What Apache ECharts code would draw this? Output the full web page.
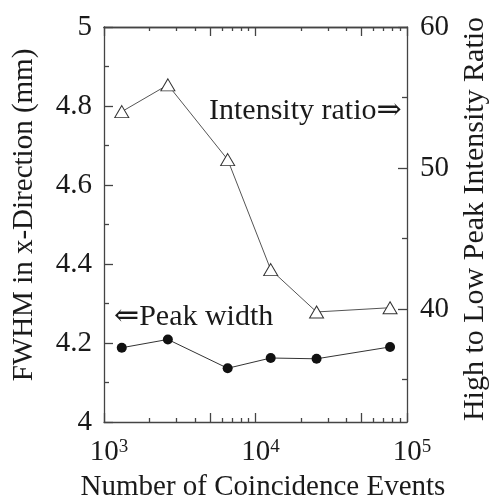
<!DOCTYPE html>
<html>
<head>
<meta charset="utf-8">
<script src="https://cdn.jsdelivr.net/npm/echarts@6/dist/echarts.min.js"></script>
<style>
  html, body { margin: 0; padding: 0; background: #fff; }
  #chart { width: 491px; height: 502px; }
</style>
</head>
<body>
<div id="chart"></div>
<script>
// number of coincidence events (x, log scale)
const events = [1310, 2640, 6550, 12600, 25300, 77300]
// FWHM in x-direction, mm (left axis)
const peakWidth = [4.188, 4.209, 4.136, 4.162, 4.160, 4.190]
// high to low peak intensity ratio (right axis)
const intensityRatio = [54.0, 55.9, 50.6, 42.8, 39.8, 40.1]

const ratioLabels = [40, 50, 60]
const ratioMinor = [35, 45, 55]
const xMajor = [1000, 5000, 10000, 50000, 100000]
const xMinor = [2000, 3000, 4000, 6000, 7000, 8000, 9000, 20000, 30000, 40000, 60000, 70000, 80000, 90000]

const font = '"Liberation Serif", "DejaVu Serif", serif'
const ink = '#1a1a1a'
const frame = { color: '#444', width: 1.3 }

function tickAxis(position, values, length) {
	return {
		type: 'value',
		position: position,
		min: 3,
		max: 5,
		axisLine: { show: position === 'top', onZero: false, lineStyle: frame },
		axisTick: {
			inside: true,
			length: length,
			customValues: values.map(Math.log10),
			lineStyle: frame
		},
		axisLabel: { show: false },
		splitLine: { show: false }
	}
}

const chart = echarts.init(document.getElementById('chart'))
const option = {
	animation: false,
	backgroundColor: '#fff',
	grid: { left: 104, right: 84, top: 27, bottom: 80 },
	textStyle: { fontFamily: font },
	xAxis: [
		{
			type: 'log',
			logBase: 10,
			min: 1000,
			max: 100000,
			position: 'bottom',
			axisLine: { show: true, onZero: false, lineStyle: frame },
			axisTick: { show: false },
			splitLine: { show: false },
			axisLabel: {
				margin: 16,
				formatter: function (v) {
					return '{b|10}{s|' + Math.round(Math.log10(v)) + '}'
				},
				rich: {
					b: { fontFamily: font, fontSize: 29, color: ink, lineHeight: 29, padding: [0, 0, 0, 10] },
					s: { fontFamily: font, fontSize: 19, color: ink, lineHeight: 19, verticalAlign: 'top' }
				}
			}
		},
		tickAxis('bottom', xMajor, 9),
		tickAxis('bottom', xMinor, 4),
		tickAxis('top', xMajor, 9),
		tickAxis('top', xMinor, 4)
	],
	yAxis: [
		{
			type: 'value',
			min: 4,
			max: 5,
			interval: 0.2,
			position: 'left',
			axisLine: { show: true, onZero: false, lineStyle: frame },
			axisTick: { inside: true, length: 9, lineStyle: frame },
			minorTick: { show: true, splitNumber: 2, length: 5, lineStyle: frame },
			axisLabel: { margin: 12, fontFamily: font, fontSize: 29, color: ink },
			splitLine: { show: false }
		},
		{
			type: 'value',
			min: 32,
			max: 60,
			position: 'right',
			axisLine: { show: true, onZero: false, lineStyle: frame },
			axisTick: { inside: true, length: 9, customValues: ratioLabels, lineStyle: frame },
			axisLabel: { margin: 13, customValues: ratioLabels, fontFamily: font, fontSize: 29, color: ink },
			splitLine: { show: false }
		},
		{
			type: 'value',
			min: 32,
			max: 60,
			position: 'right',
			axisLine: { show: false },
			axisTick: { inside: true, length: 5, customValues: ratioMinor, lineStyle: frame },
			axisLabel: { show: false },
			splitLine: { show: false }
		}
	],
	graphic: [
		{
			type: 'text', x: 24, y: 215, rotation: Math.PI / 2,
			style: { text: 'FWHM in x-Direction (mm)', font: '29px ' + font, fill: ink, textAlign: 'center', textVerticalAlign: 'middle' }
		},
		{
			type: 'text', x: 475, y: 219, rotation: Math.PI / 2,
			style: { text: 'High to Low Peak Intensity Ratio', font: '30px ' + font, fill: ink, textAlign: 'center', textVerticalAlign: 'middle' }
		},
		{
			type: 'text', x: 263, y: 487,
			style: { text: 'Number of Coincidence Events', font: '29px ' + font, fill: ink, textAlign: 'center', textVerticalAlign: 'middle' }
		},
		{
			type: 'text', x: 209, y: 111,
			style: { text: 'Intensity ratio\u21D2', font: '30px ' + font, fill: ink, textAlign: 'left', textVerticalAlign: 'middle' }
		},
		{
			type: 'text', x: 114, y: 317,
			style: { text: '\u21D0Peak width', font: '30px ' + font, fill: ink, textAlign: 'left', textVerticalAlign: 'middle' }
		}
	],
	series: [
		{
			name: 'Intensity ratio',
			type: 'line',
			xAxisIndex: 0,
			yAxisIndex: 1,
			data: events.map((x, i) => [x, intensityRatio[i]]),
			symbol: 'triangle',
			symbolSize: [14, 12],
			lineStyle: { color: '#555', width: 1 },
			itemStyle: { color: '#fff', borderColor: '#333', borderWidth: 1 },
			z: 3
		},
		{
			name: 'Peak width',
			type: 'line',
			xAxisIndex: 0,
			yAxisIndex: 0,
			data: events.map((x, i) => [x, peakWidth[i]]),
			symbol: 'circle',
			symbolSize: 10,
			lineStyle: { color: '#333', width: 1 },
			itemStyle: { color: '#111' },
			z: 3
		}
	]
}
chart.setOption(option)
</script>
</body>
</html>
